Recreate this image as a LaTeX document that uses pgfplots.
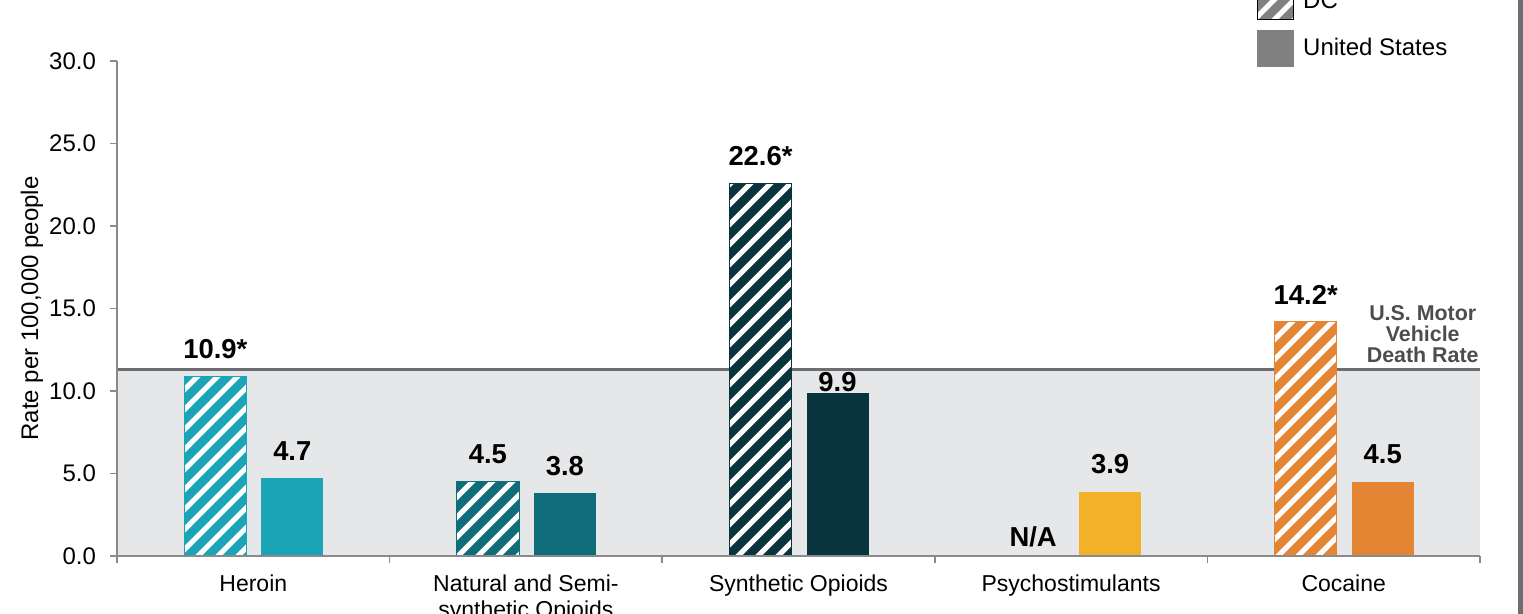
\documentclass[border=0pt]{standalone}
\usepackage{fontspec}
\setmainfont{Liberation Sans}
\usepackage{pgfplots}
\pgfplotsset{compat=1.18}
\usetikzlibrary{patterns}
\definecolor{heroin}{HTML}{1BA3B6}
\definecolor{natural}{HTML}{0F6D79}
\definecolor{synth}{HTML}{0A343D}
\definecolor{psycho}{HTML}{F2B129}
\definecolor{cocaine}{HTML}{E38532}
\definecolor{band}{HTML}{E6E7E8}
\definecolor{bandline}{HTML}{6D6E71}
\definecolor{axisgray}{HTML}{8A8A8A}
\definecolor{leggray}{HTML}{808080}
\definecolor{mvtext}{HTML}{4D4D4F}
\pgfdeclarepatternformonly{wstripes}{\pgfqpoint{-1.5pt}{-1.5pt}}{\pgfqpoint{11.5pt}{11.5pt}}{\pgfqpoint{10pt}{10pt}}{%
  \pgfsetlinewidth{2.5pt}%
  \pgfpathmoveto{\pgfqpoint{0pt}{0pt}}%
  \pgfpathlineto{\pgfqpoint{10.1pt}{10.1pt}}%
  \pgfusepath{stroke}}
\begin{document}
\begin{tikzpicture}[x=1pt,y=1pt]
\path[use as bounding box] (0,0) rectangle (761.5,307);
\clip (0,0) rectangle (761.5,307);
\fill[bandline] (758.8,0) rectangle (761.5,307);
\begin{axis}[
  at={(58.5pt,29pt)}, anchor=south west,
  scale only axis, width=681.5pt, height=247.5pt,
  xmin=-0.5, xmax=4.5, ymin=0, ymax=30,
  axis x line*=bottom, axis y line*=left,
  axis line style={-, axisgray, line width=0.8pt},
  tick align=outside,
  tick style={axisgray, line width=0.8pt},
  major tick length=3.5pt, minor tick length=3.5pt,
  ytick={0,5,...,30},
  xtick={0,1,2,3,4},
  xticklabels={Heroin, {Natural and Semi-\\synthetic Opioids}, Synthetic Opioids, Psychostimulants, Cocaine},
  minor xtick={-0.5,0.5,1.5,2.5,3.5,4.5},
  major x tick style={draw=none},
  /pgf/number format/assume math mode=true,
  yticklabel style={/pgf/number format/.cd, fixed, fixed zerofill, precision=1, /tikz/.cd, xshift=-3.5pt},
  ticklabel style={font=\fontsize{12}{14}\selectfont},
  xticklabel style={font=\fontsize{11.5}{13}\selectfont, align=center, yshift=-2.5pt},
  ylabel={Rate per 100,000 people},
  ylabel style={at={(axis description cs:-0.0625,0.5)}, anchor=center, font=\fontsize{12}{14}\selectfont},
  axis on top, clip=false,
  every node near coord/.append style={font=\bfseries\fontsize{13.7}{15}\selectfont, inner sep=0pt, yshift=8.6pt, black},
  dc/.style={ybar, forget plot, bar width=31pt, bar shift=-19pt, fill=#1, draw=#1,
    postaction={pattern=wstripes, pattern color=white}, nodes near coords, point meta=explicit symbolic,
    every node near coord/.append style={xshift=-19pt}},
  us/.style={ybar, forget plot, bar width=31pt, bar shift=19.5pt, fill=#1, draw=none,
    nodes near coords, point meta=explicit symbolic,
    every node near coord/.append style={xshift=19.5pt}},
  legend style={at={(axis description cs:0.8364,1.1576)}, anchor=north west, draw=none, fill=none,
    inner sep=0pt, row sep=5pt, font=\fontsize{12}{14}\selectfont,
    nodes={inner sep=0pt}, cells={anchor=west},
    /tikz/every odd column/.style={column sep=4.5pt}},
]
\addlegendimage{legend image code/.code={\fill[leggray] (0pt,-9pt) rectangle (18pt,9pt); \fill[pattern=wstripes, pattern color=white] (0pt,-9pt) rectangle (18pt,9pt);}}
\addlegendentry{DC}
\addlegendimage{legend image code/.code={\fill[leggray] (0pt,-9pt) rectangle (18pt,9pt);}}
\addlegendentry{United States}
% motor vehicle death rate band
\addplot[fill=band, draw=none, forget plot] coordinates {(-0.5,11.3) (4.5,11.3)} \closedcycle;
\addplot[bandline, line width=1.2pt, forget plot] coordinates {(-0.5,11.3) (4.5,11.3)};
% DC bars (hatched)
\addplot[dc=heroin] coordinates {(0,10.9) [10.9*]};
\addplot[dc=natural] coordinates {(1,4.5) [4.5]};
\addplot[dc=synth] coordinates {(2,22.6) [22.6*]};
\addplot[ybar, forget plot, bar width=31pt, bar shift=-19pt, fill=none, draw=none, nodes near coords, point meta=explicit symbolic, every node near coord/.append style={xshift=-19pt, yshift=-4.5pt}] coordinates {(3,0) [N/A]};
\addplot[dc=cocaine] coordinates {(4,14.2) [14.2*]};
% United States bars
\addplot[us=heroin] coordinates {(0,4.7) [4.7]};
\addplot[us=natural] coordinates {(1,3.8) [3.8]};
\addplot[us=synth, every node near coord/.append style={yshift=-8.5pt}] coordinates {(2,9.9) [9.9]};
\addplot[us=psycho] coordinates {(3,3.9) [3.9]};
\addplot[us=cocaine] coordinates {(4,4.5) [4.5]};
\node[align=center, font=\bfseries\fontsize{10.7}{10.5}\selectfont, text=mvtext] at (axis cs:4.29,13.45) {U.S. Motor\\Vehicle\\Death Rate};
\end{axis}
\end{tikzpicture}
\end{document}
